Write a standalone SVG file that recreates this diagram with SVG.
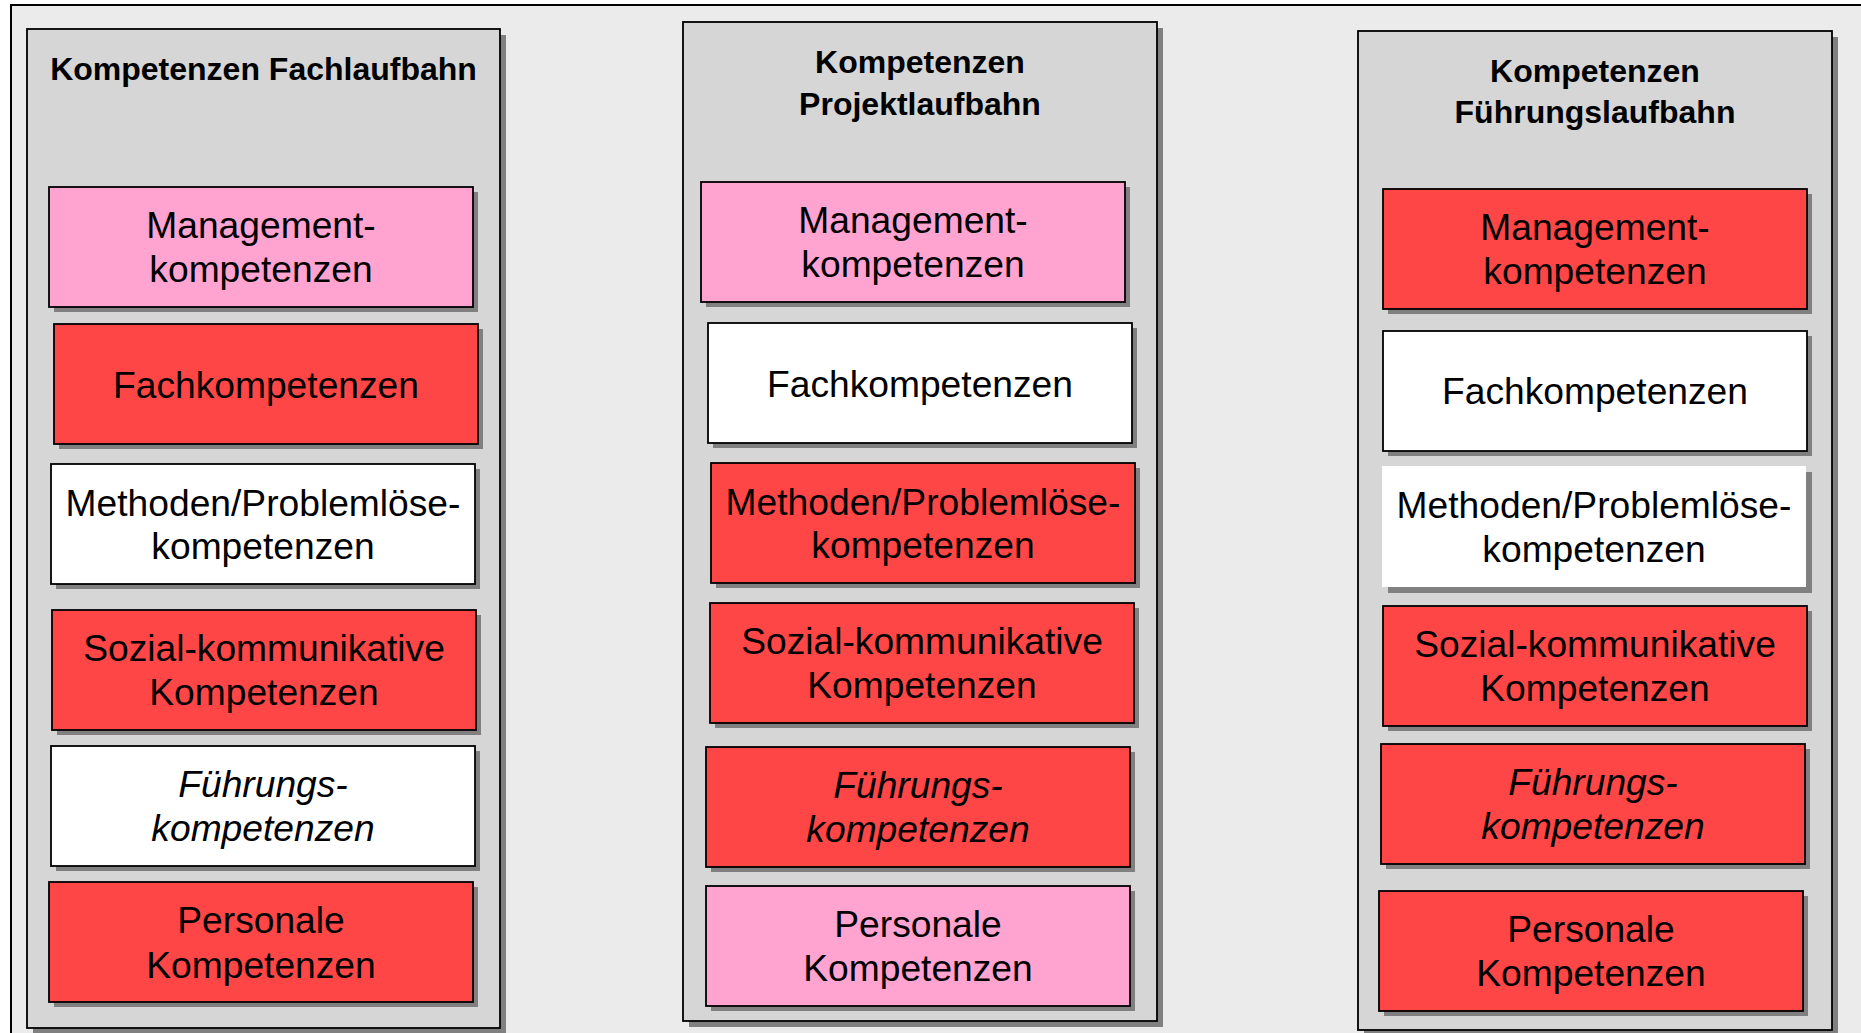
<svg xmlns="http://www.w3.org/2000/svg" width="1861" height="1033" viewBox="0 0 1861 1033">
<style>
.frame{fill:#EBEBEB;stroke:#000;stroke-width:2}
.panel{fill:#D6D6D6;stroke:#000;stroke-width:1.8}
.sh{fill:#808080}
.box{stroke:#000;stroke-width:1.8}
.pink{fill:#FFA3D1}
.red{fill:#FF4646}
.white{fill:#FFFFFF}
.nob{stroke:none}
.t{font-family:"Liberation Sans",Arial,sans-serif;font-size:37.2px;text-anchor:middle;fill:#000}
.i{font-style:italic}
.h{font-family:"Liberation Sans",Arial,sans-serif;font-size:32px;font-weight:bold;text-anchor:middle;fill:#000}
</style>
<rect x="0" y="0" width="1861" height="1033" fill="#FFFFFF"/>
<rect class="frame" x="11" y="5" width="1880" height="1060"/>

<g id="panel-fach">
<rect class="sh" x="33" y="35" width="473" height="999"/>
<rect class="panel" x="27" y="29" width="473" height="999"/>
<text class="h" x="263.5" y="80">Kompetenzen Fachlaufbahn</text>
</g>
<g id="panel-projekt">
<rect class="sh" x="689" y="28" width="474" height="999"/>
<rect class="panel" x="683" y="22" width="474" height="999"/>
<text class="h" x="920" y="73">Kompetenzen</text>
<text class="h" x="920" y="115">Projektlaufbahn</text>
</g>
<g id="panel-fuehrung">
<rect class="sh" x="1364" y="37" width="474" height="999"/>
<rect class="panel" x="1358" y="31" width="474" height="999"/>
<text class="h" x="1595" y="82">Kompetenzen</text>
<text class="h" x="1595" y="123">Führungslaufbahn</text>
</g>

<!-- Left column -->
<g id="l-management">
<rect class="sh" x="54" y="192" width="424" height="120"/>
<rect class="box pink" x="49" y="187" width="424" height="120"/>
<text class="t" x="261" y="238">Management-</text>
<text class="t" x="261" y="282">kompetenzen</text>
</g>
<g id="l-fach">
<rect class="sh" x="59" y="329" width="424" height="120"/>
<rect class="box red" x="54" y="324" width="424" height="120"/>
<text class="t" x="266" y="398">Fachkompetenzen</text>
</g>
<g id="l-methoden">
<rect class="sh" x="56" y="469" width="424" height="120"/>
<rect class="box white" x="51" y="464" width="424" height="120"/>
<text class="t" x="263" y="516">Methoden/Problemlöse-</text>
<text class="t" x="263" y="559">kompetenzen</text>
</g>
<g id="l-sozial">
<rect class="sh" x="57" y="615" width="424" height="120"/>
<rect class="box red" x="52" y="610" width="424" height="120"/>
<text class="t" x="264" y="661">Sozial-kommunikative</text>
<text class="t" x="264" y="705">Kompetenzen</text>
</g>
<g id="l-fuehrung">
<rect class="sh" x="56" y="751" width="424" height="120"/>
<rect class="box white" x="51" y="746" width="424" height="120"/>
<text class="t i" x="263" y="797">Führungs-</text>
<text class="t i" x="263" y="841">kompetenzen</text>
</g>
<g id="l-personal">
<rect class="sh" x="54" y="887" width="424" height="120"/>
<rect class="box red" x="49" y="882" width="424" height="120"/>
<text class="t" x="261" y="933">Personale</text>
<text class="t" x="261" y="978">Kompetenzen</text>
</g>

<!-- Middle column -->
<g id="m-management">
<rect class="sh" x="706" y="187" width="424" height="120"/>
<rect class="box pink" x="701" y="182" width="424" height="120"/>
<text class="t" x="913" y="233">Management-</text>
<text class="t" x="913" y="277">kompetenzen</text>
</g>
<g id="m-fach">
<rect class="sh" x="713" y="328" width="424" height="120"/>
<rect class="box white" x="708" y="323" width="424" height="120"/>
<text class="t" x="920" y="397">Fachkompetenzen</text>
</g>
<g id="m-methoden">
<rect class="sh" x="716" y="468" width="424" height="120"/>
<rect class="box red" x="711" y="463" width="424" height="120"/>
<text class="t" x="923" y="515">Methoden/Problemlöse-</text>
<text class="t" x="923" y="558">kompetenzen</text>
</g>
<g id="m-sozial">
<rect class="sh" x="715" y="608" width="424" height="120"/>
<rect class="box red" x="710" y="603" width="424" height="120"/>
<text class="t" x="922" y="654">Sozial-kommunikative</text>
<text class="t" x="922" y="698">Kompetenzen</text>
</g>
<g id="m-fuehrung">
<rect class="sh" x="711" y="752" width="424" height="120"/>
<rect class="box red" x="706" y="747" width="424" height="120"/>
<text class="t i" x="918" y="798">Führungs-</text>
<text class="t i" x="918" y="842">kompetenzen</text>
</g>
<g id="m-personal">
<rect class="sh" x="711" y="891" width="424" height="120"/>
<rect class="box pink" x="706" y="886" width="424" height="120"/>
<text class="t" x="918" y="937">Personale</text>
<text class="t" x="918" y="981">Kompetenzen</text>
</g>

<!-- Right column -->
<g id="r-management">
<rect class="sh" x="1388" y="194" width="424" height="120"/>
<rect class="box red" x="1383" y="189" width="424" height="120"/>
<text class="t" x="1595" y="240">Management-</text>
<text class="t" x="1595" y="284">kompetenzen</text>
</g>
<g id="r-fach">
<rect class="sh" x="1388" y="336" width="424" height="120"/>
<rect class="box white" x="1383" y="331" width="424" height="120"/>
<text class="t" x="1595" y="404">Fachkompetenzen</text>
</g>
<g id="r-methoden">
<rect class="sh" x="1388" y="472" width="424" height="121"/>
<rect class="white nob" x="1382" y="466" width="424" height="121"/>
<text class="t" x="1594" y="518">Methoden/Problemlöse-</text>
<text class="t" x="1594" y="562">kompetenzen</text>
</g>
<g id="r-sozial">
<rect class="sh" x="1388" y="611" width="424" height="120"/>
<rect class="box red" x="1383" y="606" width="424" height="120"/>
<text class="t" x="1595" y="657">Sozial-kommunikative</text>
<text class="t" x="1595" y="701">Kompetenzen</text>
</g>
<g id="r-fuehrung">
<rect class="sh" x="1386" y="749" width="424" height="120"/>
<rect class="box red" x="1381" y="744" width="424" height="120"/>
<text class="t i" x="1593" y="795">Führungs-</text>
<text class="t i" x="1593" y="839">kompetenzen</text>
</g>
<g id="r-personal">
<rect class="sh" x="1384" y="896" width="424" height="120"/>
<rect class="box red" x="1379" y="891" width="424" height="120"/>
<text class="t" x="1591" y="942">Personale</text>
<text class="t" x="1591" y="986">Kompetenzen</text>
</g>

<g id="connectors"></g>
</svg>
